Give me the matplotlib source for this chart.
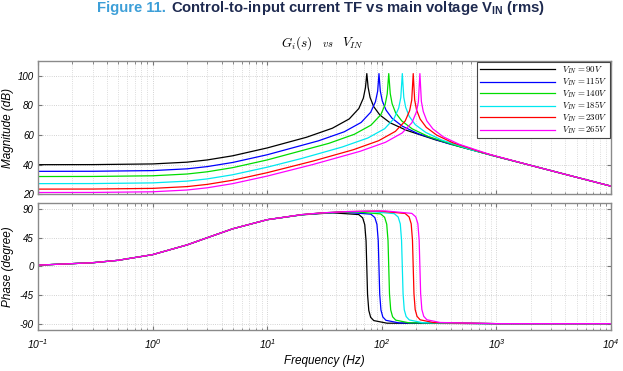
import matplotlib
matplotlib.use('Agg')
import matplotlib.pyplot as plt
from matplotlib.ticker import LogLocator, NullFormatter

plt.rcParams['font.family'] = ['Liberation Sans', 'DejaVu Sans']
plt.rcParams['mathtext.fontset'] = 'cm'
plt.rcParams['mathtext.rm'] = 'Liberation Sans:italic'
plt.rcParams['mathtext.it'] = 'Liberation Sans:italic'
plt.rcParams['mathtext.bf'] = 'Liberation Sans:bold'

# ---------------- data ----------------
labels = [r'$V_{IN} = 90V$', r'$V_{IN} = 115V$', r'$V_{IN} = 140V$',
          r'$V_{IN} = 185V$', r'$V_{IN} = 230V$', r'$V_{IN} = 265V$']
colors = ['#000000', '#0000ff', '#00dd00', '#00e8f0', '#ff0000', '#ff00ff']

mag_freq_90 = [0.1, 0.3, 1, 2, 3, 5, 10, 22, 37, 52, 63, 69, 72, 74, 76, 79, 85, 96, 118, 163, 296, 1000, 2000, 5000, 10000]
mag_db_90 = [40.0, 40.05, 40.5, 41.7, 43.2, 46.0, 51.3, 58.5, 64.6, 70.9, 77.9, 84.9, 92.0, 101.5, 92.2, 85.4, 79.2, 73.6, 68.3, 63.3, 56.7, 45.5, 39.5, 31.5, 25.5]

mag_freq_115 = [0.1, 0.3, 1, 2, 3, 5, 10, 28, 47, 66, 80, 88, 92, 94.5, 97, 101, 109, 123, 151, 208, 378, 1000, 2000, 5000, 10000]
mag_db_115 = [35.5, 35.55, 36.0, 37.2, 38.7, 41.5, 46.7, 56.1, 62.2, 68.5, 75.4, 82.5, 89.6, 101.5, 89.8, 83.0, 76.8, 71.3, 66.0, 60.9, 54.3, 45.5, 39.5, 31.5, 25.5]

mag_freq_140 = [0.1, 0.3, 1, 2, 3, 5, 10, 34.5, 57.5, 80.5, 98, 107, 111.5, 115, 118.5, 123, 132, 149.5, 184, 253, 460, 1000, 2000, 5000, 10000]
mag_db_140 = [32.0, 32.05, 32.5, 33.7, 35.2, 38.0, 43.2, 54.4, 60.5, 66.7, 73.7, 80.7, 87.8, 101.5, 88.0, 81.2, 75.0, 69.5, 64.2, 59.1, 52.5, 45.5, 39.5, 31.5, 25.5]

mag_freq_185 = [0.1, 0.3, 1, 2, 3, 5, 10, 20, 45, 75.5, 106, 128, 140.5, 146.5, 151, 155.5, 161.5, 173.5, 196, 241.5, 332, 604, 1000, 2000, 5000, 10000]
mag_db_185 = [27.2, 27.25, 27.7, 28.9, 30.4, 33.2, 38.3, 44.2, 51.9, 58.0, 64.3, 71.2, 78.3, 85.4, 101.5, 85.6, 78.8, 72.6, 67.0, 61.8, 56.7, 50.1, 45.5, 39.5, 31.5, 25.5]

mag_freq_230 = [0.1, 0.3, 1, 2, 3, 5, 10, 25, 56.5, 94, 131.5, 160, 175, 182.5, 188, 193.5, 201, 216, 244.5, 301, 413.5, 752, 1000, 2000, 5000, 10000]
mag_db_230 = [23.5, 23.55, 24.0, 25.2, 26.7, 29.5, 34.6, 42.4, 50.1, 56.2, 62.5, 69.5, 76.5, 83.6, 101.5, 83.8, 77.0, 70.8, 65.2, 60.0, 54.9, 48.3, 45.6, 39.5, 31.5, 25.5]

mag_freq_265 = [0.1, 0.3, 1, 2, 3, 5, 10, 25, 64.5, 107.5, 150.5, 183, 200, 208.5, 215, 221.5, 230, 247, 279.5, 344, 473, 860, 2000, 5000, 10000]
mag_db_265 = [21.2, 21.25, 21.7, 22.9, 24.4, 27.2, 32.3, 40.1, 49.0, 55.1, 61.4, 68.3, 75.4, 82.4, 101.5, 82.7, 75.9, 69.6, 64.1, 58.8, 53.8, 47.1, 39.5, 31.5, 25.5]

ph_freq_90 = [0.1, 0.3, 0.5, 1, 2, 3, 5, 10, 20, 37, 62.9, 68.1, 71.0, 72.9, 74, 75.1, 77.0, 79.9, 85.1, 111, 1000, 10000]
ph_deg_90 = [1.9, 5.7, 9.5, 18.4, 33.7, 45.0, 59.0, 73.3, 80.9, 84.1, 81.4, 76.2, 65.4, 39.9, -2.3, -44.1, -69.2, -80.0, -85.2, -89.3, -90.0, -90.0]

ph_freq_115 = [0.1, 0.3, 0.5, 1, 2, 3, 5, 10, 20, 30, 47.3, 80.3, 86.9, 90.7, 93.1, 94.5, 95.9, 98.3, 102.1, 108.7, 141.8, 1000, 10000]
ph_deg_115 = [1.9, 5.7, 9.5, 18.4, 33.7, 45.0, 59.0, 73.3, 81.1, 83.6, 85.1, 82.0, 76.7, 65.9, 40.4, -1.8, -43.6, -68.7, -79.5, -84.8, -88.9, -90.0, -90.0]

ph_freq_140 = [0.1, 0.3, 0.5, 1, 2, 3, 5, 10, 20, 30, 57.5, 97.8, 105.8, 110.4, 113.3, 115, 116.7, 119.6, 124.2, 132.3, 172.5, 1000, 10000]
ph_deg_140 = [1.9, 5.7, 9.5, 18.4, 33.7, 45.0, 59.0, 73.3, 81.1, 83.8, 85.7, 82.4, 77.1, 66.2, 40.7, -1.5, -43.3, -68.4, -79.2, -84.5, -88.7, -90.0, -90.0]

ph_freq_185 = [0.1, 0.3, 0.5, 1, 2, 3, 5, 10, 20, 30, 40, 75.5, 128.4, 138.9, 145.0, 148.7, 151, 153.3, 157.0, 163.1, 173.7, 226.5, 1000, 10000]
ph_deg_185 = [1.9, 5.7, 9.5, 18.4, 33.7, 45.0, 59.0, 73.3, 81.2, 83.9, 85.2, 86.5, 82.8, 77.5, 66.6, 41.0, -1.1, -42.9, -68.1, -78.9, -84.2, -88.5, -90.0, -90.0]

ph_freq_230 = [0.1, 0.3, 0.5, 1, 2, 3, 5, 10, 20, 30, 50, 94, 159.8, 173.0, 180.5, 185.2, 188, 190.8, 195.5, 203.0, 216.2, 282, 1000, 10000]
ph_deg_230 = [1.9, 5.7, 9.5, 18.4, 33.7, 45.0, 59.0, 73.3, 81.3, 84.0, 86.0, 86.9, 83.1, 77.7, 66.9, 41.3, -0.9, -42.7, -67.9, -78.6, -84.0, -88.3, -90.0, -90.0]

ph_freq_265 = [0.1, 0.3, 0.5, 1, 2, 3, 5, 10, 20, 30, 50, 107.5, 182.8, 197.8, 206.4, 211.8, 215, 218.2, 223.6, 232.2, 247.3, 322.5, 1000, 10000]
ph_deg_265 = [1.9, 5.7, 9.5, 18.4, 33.7, 45.0, 59.0, 73.3, 81.3, 84.0, 86.1, 87.1, 83.2, 77.8, 67.0, 41.4, -0.8, -42.6, -67.8, -78.5, -83.9, -88.2, -90.0, -90.0]

mag_freqs = [mag_freq_90, mag_freq_115, mag_freq_140, mag_freq_185, mag_freq_230, mag_freq_265]
mag_vals = [mag_db_90, mag_db_115, mag_db_140, mag_db_185, mag_db_230, mag_db_265]
ph_freqs = [ph_freq_90, ph_freq_115, ph_freq_140, ph_freq_185, ph_freq_230, ph_freq_265]
ph_vals = [ph_deg_90, ph_deg_115, ph_deg_140, ph_deg_185, ph_deg_230, ph_deg_265]

mag_ticks = [20, 40, 60, 80, 100]
mag_ticklabels = ['20', '40', '60', '80', '100']
ph_ticks = [-90, -45, 0, 45, 90]
ph_ticklabels = ['-90', '-45', '0', '45', '90']
x_ticks = [0.1, 1, 10, 100, 1000, 10000]
x_ticklabels = [r'$10^{-1}$', r'$10^{0}$', r'$10^{1}$', r'$10^{2}$', r'$10^{3}$', r'$10^{4}$']

# ---------------- figure ----------------
W, H = 623, 371
fig = plt.figure(figsize=(W / 100, H / 100), dpi=100)
fig.patch.set_facecolor('white')

def fx(px):
    return px / W

def fy(py):
    return 1 - py / H

ax1 = fig.add_axes([fx(38), fy(194.3), fx(611) - fx(38), fy(61) - fy(194.3)])
ax2 = fig.add_axes([fx(38), fy(330), fx(611) - fx(38), fy(202.7) - fy(330)])

for f, v, c, lab in zip(mag_freqs, mag_vals, colors, labels):
    ax1.plot(f, v, color=c, lw=0.9, label=lab)
for f, v, c in zip(ph_freqs, ph_vals, colors):
    ax2.plot(f, v, color=c, lw=0.9)

spine_col = '#8a8a8a'
for ax in (ax1, ax2):
    ax.set_xscale('log')
    ax.set_xlim(0.1, 1e4)
    ax.xaxis.set_major_locator(LogLocator(base=10, numticks=20))
    ax.xaxis.set_minor_locator(LogLocator(base=10, subs=range(2, 10), numticks=100))
    ax.xaxis.set_minor_formatter(NullFormatter())
    ax.grid(True, which='major', ls=':', color='#c4c4c4', lw=0.6)
    ax.grid(True, which='minor', axis='x', ls=':', color='#d0d0d0', lw=0.6)
    for s in ax.spines.values():
        s.set_color(spine_col)
        s.set_linewidth(1.0)
    ax.tick_params(which='both', direction='in', top=True, right=True,
                   color='#777777', labelsize=7, pad=3)
    ax.tick_params(which='major', length=3)
    ax.tick_params(which='minor', length=1.8)
    ax.set_axisbelow(True)

ax1.set_ylim(20, 110)
ax1.set_yticks(mag_ticks, labels=mag_ticklabels, fontstyle='italic', fontsize=7)
ax1.set_xticks(x_ticks)
ax1.set_xticklabels([])
ax1.set_ylabel('Magnitude (dB)', fontstyle='italic', fontsize=8.5)
ax1.yaxis.set_label_coords((14 - 38) / 573, 0.5)

ax2.set_ylim(-100, 100)
ax2.set_yticks(ph_ticks, labels=ph_ticklabels, fontstyle='italic', fontsize=7)
ax2.set_xticks(x_ticks, labels=x_ticklabels, math_fontfamily='custom', fontsize=7.5)
ax2.tick_params(axis='x', pad=5)
ax2.set_ylabel('Phase (degree)', fontstyle='italic', fontsize=8.5)
ax2.yaxis.set_label_coords((14 - 38) / 573, 0.5)
ax2.set_xlabel('Frequency (Hz)', fontstyle='italic', fontsize=8.5, labelpad=3)

leg = ax1.legend(loc='upper right', bbox_to_anchor=(1.0, 1.0), borderaxespad=0.1,
                 fontsize=6.4, frameon=True, fancybox=False, edgecolor='#444444',
                 framealpha=1, handlelength=8.5, handletextpad=0.8,
                 labelspacing=0.0, borderpad=0.25)
leg.get_frame().set_linewidth(0.8)

# subtitle
fig.text(fx(313), fy(43), r'$G_i(s)$', ha='right', va='center', fontsize=9.5)
fig.text(fx(328), fy(44), r'$vs$', ha='center', va='center', fontsize=7.5)
fig.text(fx(342), fy(43), r'$V_{IN}$', ha='left', va='center', fontsize=9.5)

# title in two colours
renderer = fig.canvas.get_renderer()
t1 = fig.text(0, fy(8), 'Figure 11. ', color='#3d9fd8', fontweight='bold',
              fontsize=10, ha='left', va='center')
t2 = fig.text(0, fy(8), r'Control-to-input current TF vs main voltage $\mathbf{V}_{\mathbf{IN}}$ (rms)',
              color='#1e2a50', fontweight='bold', fontsize=10, ha='left', va='center',
              math_fontfamily='custom')
w1 = t1.get_window_extent(renderer).width
w2 = t2.get_window_extent(renderer).width
target = 448.0
scale = target / (w1 + w2)
t1.set_fontsize(10 * scale)
t2.set_fontsize(10 * scale)
start = 321 - target / 2
t1.set_x(fx(start))
t2.set_x(fx(start + w1 * scale))

fig.savefig('out.png', dpi=100)
